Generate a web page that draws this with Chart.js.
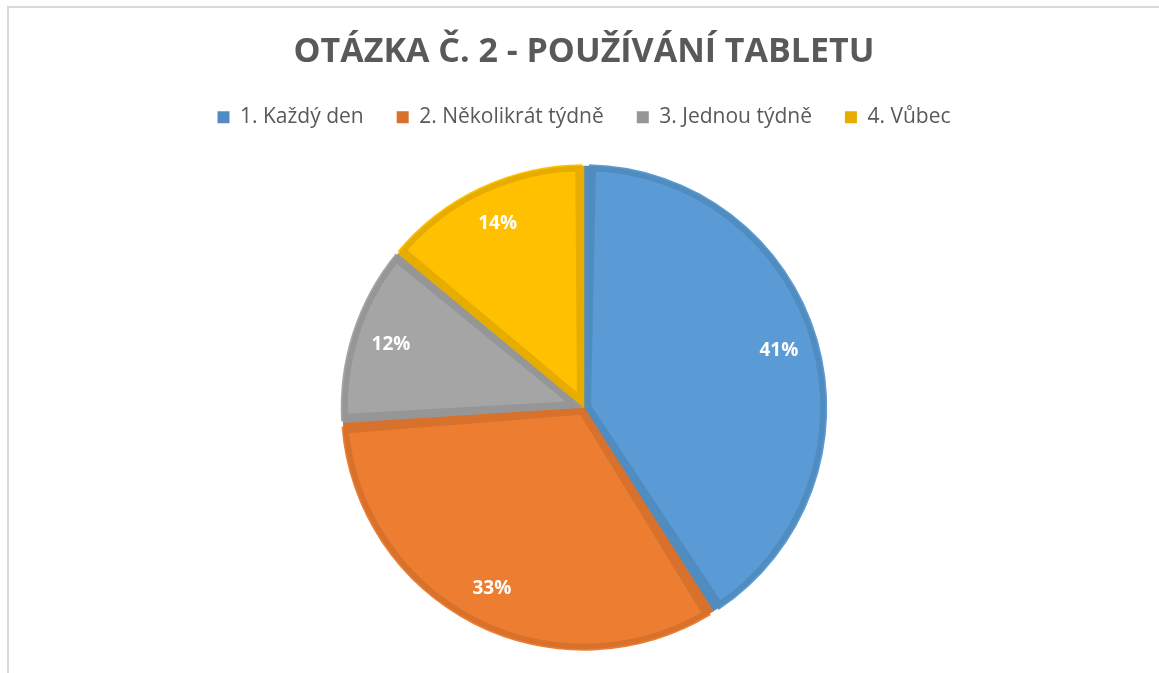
<!DOCTYPE html>
<html>
<head>
<meta charset="utf-8">
<script src="https://cdn.jsdelivr.net/npm/chart.js@4.4.1/dist/chart.umd.min.js"></script>
<style>
  html, body { margin: 0; padding: 0; background: #fff; overflow: hidden; }
  #frame {
    position: absolute; left: 7px; top: 6px; width: 1152px; height: 667px;
    border-left: 2px solid #d9d9d9; border-top: 2px solid #d9d9d9;
  }
  #chartBox { position: absolute; left: 0; top: 0; width: 1150px; height: 665px; }
</style>
</head>
<body>
<div id="frame"><div id="chartBox"><canvas id="pieChart"></canvas></div></div>
<script>
// --- Data ---
const categories = ["1. Každý den", "2. Několikrát týdně", "3. Jednou týdně", "4. Vůbec"];
const shares = [41, 33, 12, 14];
const fillColors = ["#5b9bd5", "#ed7d31", "#a5a5a5", "#ffc000"];
const edgeColors = ["#518cc1", "#d7712c", "#969696", "#e6ad00"];

const textGray = "#595959";
const fontFamily = "'Open Sans', 'Noto Sans', sans-serif";

// --- Percent labels inside slices ---
const sliceLabels = {
  id: "sliceLabels",
  afterDatasetsDraw(chart) {
    const ctx = chart.ctx;
    const meta = chart.getDatasetMeta(0);
    const total = shares.reduce((a, b) => a + b, 0);
    ctx.save();
    ctx.fillStyle = "#ffffff";
    ctx.font = "bold 19px " + fontFamily;
    ctx.textAlign = "center";
    ctx.textBaseline = "middle";
    meta.data.forEach((arc, i) => {
      const p = arc.getProps(["x", "y", "startAngle", "endAngle", "outerRadius"], true);
      const mid = (p.startAngle + p.endAngle) / 2;
      const r = p.outerRadius * 0.84;
      const pct = Math.round(shares[i] / total * 100) + "%";
      ctx.fillText(pct, p.x + Math.cos(mid) * r, p.y + Math.sin(mid) * r);
    });
    ctx.restore();
  }
};

// --- Extra room below the legend ---
const legendGap = {
  id: "legendGap",
  beforeInit(chart) {
    const fit = chart.legend.fit;
    chart.legend.fit = function () {
      fit.bind(chart.legend)();
      this.height += 26;
    };
  }
};

const defaultLabels = Chart.overrides.pie.plugins.legend.labels.generateLabels;

new Chart(document.getElementById("pieChart"), {
  type: "pie",
  data: {
    labels: categories,
    datasets: [{
      data: shares,
      backgroundColor: fillColors,
      borderColor: edgeColors,
      borderWidth: 7,
      borderAlign: "inner",
      spacing: 4
    }]
  },
  options: {
    responsive: true,
    maintainAspectRatio: false,
    animation: false,
    layout: { padding: { top: 0, bottom: 22, left: 0, right: 0 } },
    plugins: {
      title: {
        display: true,
        text: "OTÁZKA Č. 2 - POUŽÍVÁNÍ TABLETU",
        color: textGray,
        font: { family: fontFamily, size: 34, weight: "bold" },
        padding: { top: 24, bottom: 1 }
      },
      legend: {
        position: "top",
        labels: {
          color: textGray,
          font: { family: fontFamily, size: 21 },
          boxWidth: 12,
          boxHeight: 12,
          padding: 33,
          generateLabels(chart) {
            return defaultLabels(chart).map((item, i) => {
              item.fillStyle = edgeColors[i];
              item.lineWidth = 0;
              item.strokeStyle = edgeColors[i];
              return item;
            });
          }
        }
      },
      tooltip: { enabled: false }
    }
  },
  plugins: [sliceLabels, legendGap]
});
</script>
</body>
</html>
